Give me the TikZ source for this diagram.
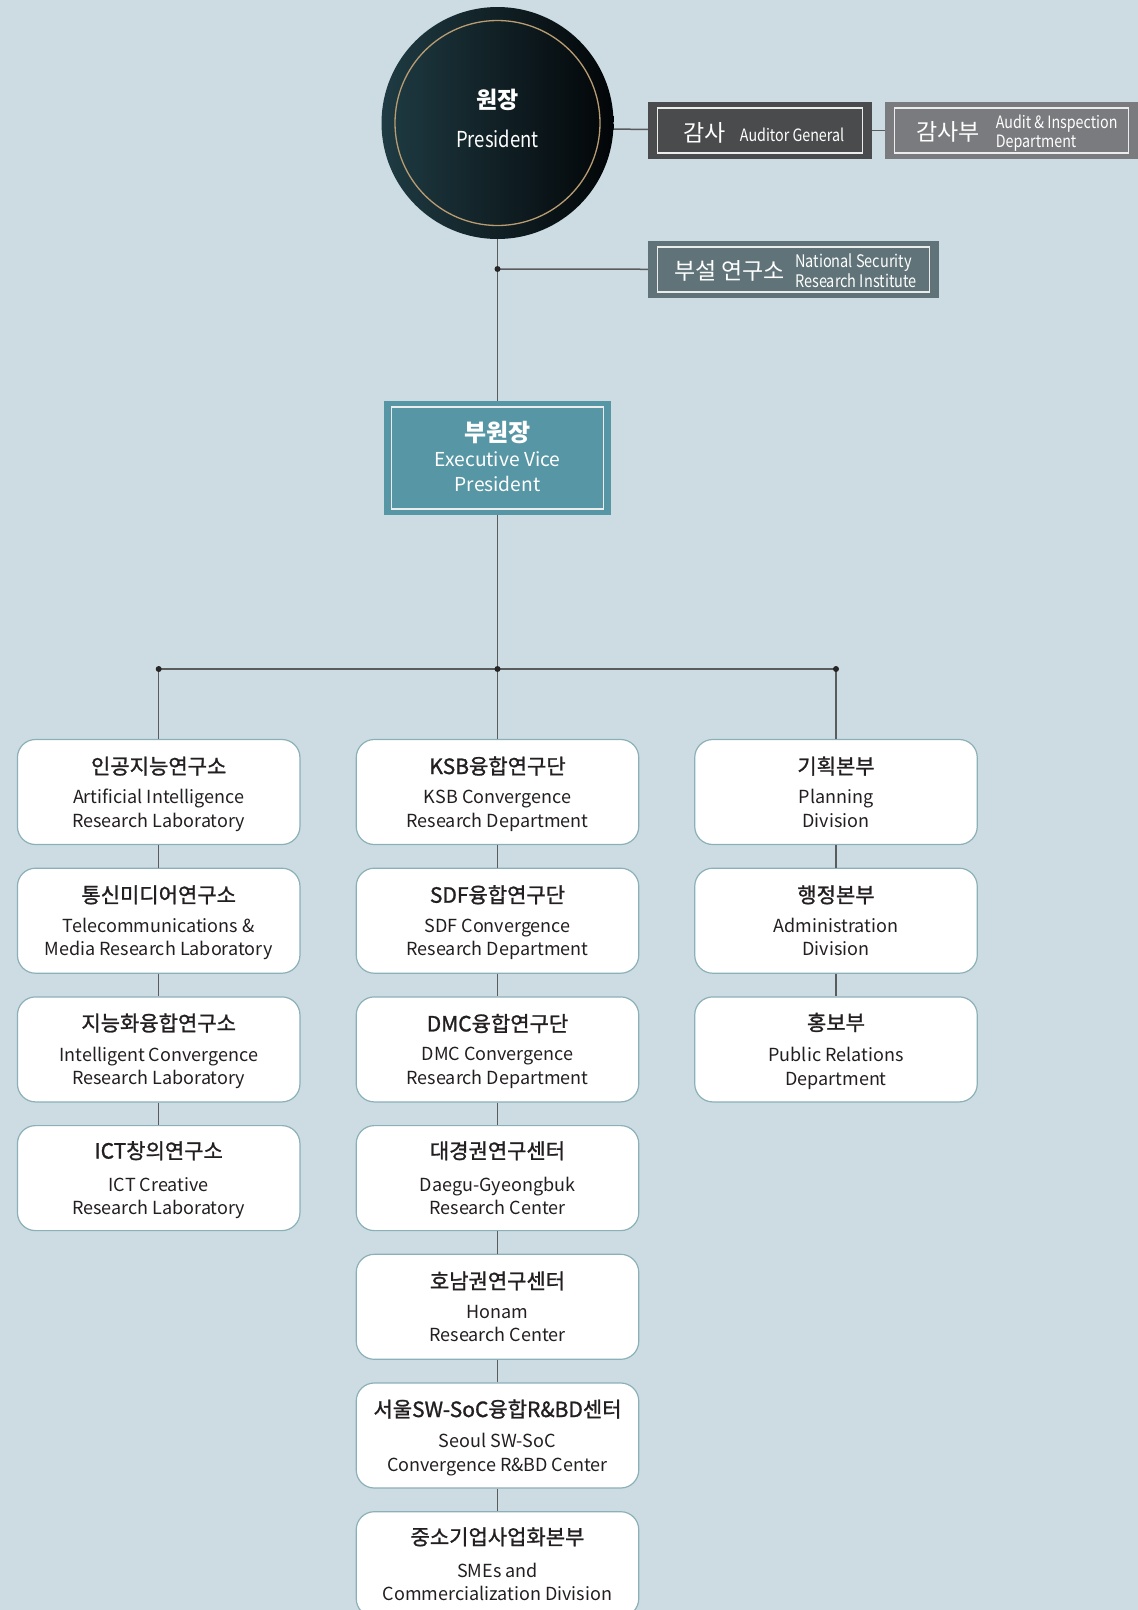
\documentclass[tikz,border=0pt]{standalone}
\usepackage{fontspec}
\setmainfont{Noto Sans CJK KR}
\newfontfamily\condfont[FakeStretch=0.84]{Noto Sans CJK KR}
\newfontfamily\krmid[FakeBold=1.2]{Noto Sans CJK KR}
\usetikzlibrary{positioning}
\definecolor{bgblue}{HTML}{CCDCE2}
\definecolor{linkgray}{HTML}{5A5B5D}
\definecolor{unitedge}{HTML}{8BB0B7}
\definecolor{inktext}{HTML}{231F20}
\definecolor{circleft}{HTML}{1F3B43}
\definecolor{circright}{HTML}{020507}
\definecolor{goldring}{HTML}{B89C72}
\definecolor{auditgray}{HTML}{4A4B4D}
\definecolor{deptgray}{HTML}{7A7B7E}
\definecolor{nsrigray}{HTML}{5F7379}
\definecolor{evpteal}{HTML}{5796A4}
\newcommand\ktitle[1]{{\krmid\fontsize{21}{23.5}\selectfont\rule{0pt}{22pt}#1}}
\newcommand\kbig{\fontsize{23}{24}\selectfont}

\begin{document}
\begin{tikzpicture}[x=1pt, y=-1pt,
  unit/.style={rectangle, 
    rounded corners=18pt, 
    draw=unitedge, 
    line width=1.2pt, 
    fill=white, 
    minimum width=282.5pt, 
    minimum height=105pt, 
    inner sep=0pt, 
    align=center, 
    text=inktext, 
    font=\fontsize{18}{23.5}\selectfont, 
    execute at end node={\rule[-5pt]{0pt}{5pt}}},
  plate/.style={rectangle, 
    inner sep=0pt, 
    text=white, 
    align=center, 
    path picture={\draw[line width=1.4pt, white!85!gray] 
      ([xshift=#1, yshift=-6pt]path picture bounding box.north west) rectangle 
      ([xshift=-#1, yshift=6pt]path picture bounding box.south east);}},
  link/.style={draw=linkgray, line width=1.5pt},
  joint/.style={fill=black!85}]

  \useasboundingbox (0,0) rectangle (1138,1610);
  \fill[bgblue] (0,0) rectangle (1138,1610);
  \clip (0,0) rectangle (1138,1610);

  % top
  \node [circle, 
    minimum size=232pt, 
    inner sep=0pt, 
    left color=circleft, 
    right color=circright, 
    text=white, 
    align=center] (president) at (497.5,123) {
    {\fontsize{23}{26}\selectfont\bfseries 원장}\\[18pt]
    {\condfont\fontsize{22}{24}\selectfont President}\\[-3pt]
    \rule{0pt}{5pt}
  };
  \draw[goldring, line width=1.3pt] (president.center) circle (102.5pt);

  \node [plate=9.5pt, 
    fill=auditgray, 
    minimum width=224pt, 
    minimum height=57pt] (auditor) at (760,130.5) {
    \raisebox{-2pt}[\height][\depth]{\hspace*{10pt}%
    {\kbig 감사}\hspace{14pt}{\condfont\fontsize{17}{19}\selectfont Auditor General}}
  };

  \node [plate=9.5pt, 
    fill=deptgray, 
    minimum width=253pt, 
    minimum height=57pt] (auditdept) at (1011.5,130.5) {
    \raisebox{-4pt}[\height][\depth]{\hspace*{13pt}%
    \raisebox{-2pt}{\kbig 감사부}\hspace{16pt}%
    {\condfont\fontsize{17}{19}\selectfont
    \begin{tabular}{@{}l@{}}Audit \& Inspection\\Department\end{tabular}}}
  };

  \node [plate=9.5pt, 
    fill=nsrigray, 
    minimum width=291pt, 
    minimum height=57pt] (nsri) at (793.5,269.5) {
    \raisebox{-4pt}[\height][\depth]{\hspace*{6pt}%
    \raisebox{-2pt}{\kbig 부설 연구소}\hspace{10pt}%
    {\condfont\fontsize{17.3}{19}\selectfont
    \begin{tabular}{@{}l@{}}National Security\\Research Institute\end{tabular}}}
  };

  \node [plate=7.5pt, 
    fill=evpteal, 
    minimum width=227pt, 
    minimum height=114pt, 
    font=\fontsize{19.2}{25}\selectfont] (evp) at (497.5,458) {
    {\fontsize{24}{25}\selectfont\bfseries 부원장}\\[0pt]
    Executive Vice\\President\rule[-4pt]{0pt}{4pt}
  };

  % left column
  \node [unit] (ailab) at (158.7,792) {
    \ktitle{인공지능연구소}\\[6pt]
    Artificial Intelligence\\Research Laboratory
  };
  \node [unit, below=22.5pt of ailab] (tmlab) {
    \ktitle{통신미디어연구소}\\[6pt]
    Telecommunications \&\\Media Research Laboratory
  };
  \node [unit, below=22.5pt of tmlab] (iclab) {
    \ktitle{지능화융합연구소}\\[7pt]
    Intelligent Convergence\\Research Laboratory
  };
  \node [unit, below=22.5pt of iclab] (ictlab) {
    \ktitle{ICT창의연구소}\\[9pt]
    ICT Creative\\Research Laboratory
  };

  % middle column
  \node [unit] (ksbdept) at (497.5,792) {
    \ktitle{KSB융합연구단}\\[6pt]
    KSB Convergence\\Research Department
  };
  \node [unit, below=22.5pt of ksbdept] (sdfdept) {
    \ktitle{SDF융합연구단}\\[6pt]
    SDF Convergence\\Research Department
  };
  \node [unit, below=22.5pt of sdfdept] (dmcdept) {
    \ktitle{DMC융합연구단}\\[6pt]
    DMC Convergence\\Research Department
  };
  \node [unit, below=22.5pt of dmcdept] (dgcenter) {
    \ktitle{대경권연구센터}\\[9pt]
    Daegu-Gyeongbuk\\Research Center
  };
  \node [unit, below=22.5pt of dgcenter] (hncenter) {
    \ktitle{호남권연구센터}\\[6pt]
    Honam\\Research Center
  };
  \node [unit, below=22.5pt of hncenter] (socenter) {
    \ktitle{서울SW-SoC융합R\&BD센터}\\[7pt]
    Seoul SW-SoC\\Convergence R\&BD Center
  };
  \node [unit, below=22.5pt of socenter] (smediv) {
    \ktitle{중소기업사업화본부}\\[9pt]
    SMEs and\\Commercialization Division
  };

  % right column
  \node [unit] (plandiv) at (836,792) {
    \ktitle{기획본부}\\[6pt]
    Planning\\Division
  };
  \node [unit, below=22.5pt of plandiv] (admdiv) {
    \ktitle{행정본부}\\[6pt]
    Administration\\Division
  };
  \node [unit, below=22.5pt of admdiv] (prdept) {
    \ktitle{홍보부}\\[8pt]
    Public Relations\\Department
  };

  % links
  \coordinate (nsrijoin) at (497.5,269);
  \coordinate (splitmid) at (497.5,669);
  \coordinate (splitleft) at (158.7,669);
  \coordinate (splitright) at (836,669);

  \draw[link] (president.-3.7) -- (auditor);
  \draw[link] (auditor) -- (auditdept);
  \draw[link] (president) -- (evp);
  \draw[link] (nsrijoin) -- (nsri);
  \draw[link] (evp) -- (splitmid);
  \draw[link] (splitleft) -- (splitright);
  \draw[link] (splitleft) -- (ailab);
  \draw[link] (splitmid) -- (ksbdept);
  \draw[link] (splitright) -- (plandiv);

  \draw[link] (ailab) -- (tmlab);
  \draw[link] (tmlab) -- (iclab);
  \draw[link] (iclab) -- (ictlab);
  \draw[link] (ksbdept) -- (sdfdept);
  \draw[link] (sdfdept) -- (dmcdept);
  \draw[link] (dmcdept) -- (dgcenter);
  \draw[link] (dgcenter) -- (hncenter);
  \draw[link] (hncenter) -- (socenter);
  \draw[link] (socenter) -- (smediv);
  \draw[link] (plandiv) -- (admdiv);
  \draw[link] (admdiv) -- (prdept);

  \fill[joint] (nsrijoin) circle (3pt);
  \fill[joint] (splitleft) circle (3pt);
  \fill[joint] (splitmid) circle (3pt);
  \fill[joint] (splitright) circle (3pt);

\end{tikzpicture}
\end{document}
